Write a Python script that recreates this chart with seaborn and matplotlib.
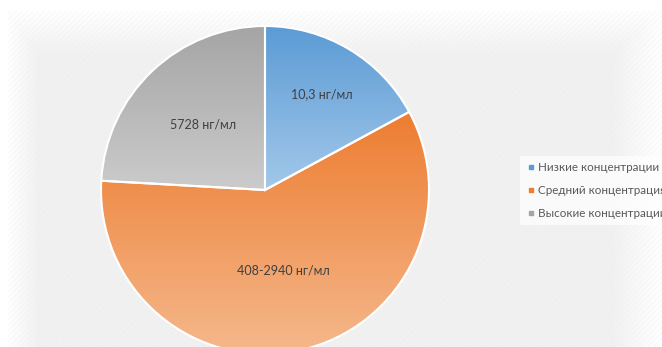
import matplotlib.pyplot as plt
import seaborn as sns
import numpy as np
from matplotlib.colors import LinearSegmentedColormap
from matplotlib.lines import Line2D
from matplotlib.patches import Rectangle

# Dados
categorias = ['Низкие концентрации', 'Средний концентрация', 'Высокие концентрации']
doli = [17.1, 58.8, 24.1]
podpisi = ['10,3 нг/мл', '408-2940 нг/мл', '5728 нг/мл']

# cores: topo -> base do gradiente
cores_topo = ['#5b9bd5', '#ed7d31', '#a5a5a5']
cores_base = ['#a3c8ea', '#f5b88c', '#cbcbcb']
dist_rotulo = [0.68, 0.50, 0.55]

sns.set_theme(style="white")
plt.rcParams['font.family'] = ['Lato', 'DejaVu Sans']

fig = plt.figure(figsize=(6.62, 3.47), dpi=100)
fig.patch.set_facecolor('white')

#%%
# Fundo cinza claro com leve vinheta branca nas bordas
bg = fig.add_axes([8 / 662, 0, 1 - 8 / 662, 1 - 11 / 347])
bg.set_axis_off()
h, w = 200, 400
yy, xx = np.mgrid[0:h, 0:w]
fade = np.minimum.reduce([yy / 25.0, xx / 18.0, (w - 1 - xx) / 30.0, np.full((h, w), 1.0)])
fade = np.clip(fade, 0, 1)
img = 1.0 - 0.055 * fade
bg.imshow(img, cmap='gray', vmin=0, vmax=1, aspect='auto', extent=(0, 1, 0, 1))
bg.add_patch(Rectangle((0, 0), 1, 1, facecolor='none', edgecolor='#ececec',
                       hatch='//////', linewidth=0, alpha=0.25))
bg.set_xlim(0, 1)
bg.set_ylim(0, 1)

#%%
# Gráfico de pizza
ax = fig.add_axes([101 / 662, -7 / 347, 328 / 662, 328 / 347])
fatias, _ = ax.pie(doli, startangle=90, counterclock=False, radius=1,
                   wedgeprops=dict(edgecolor='white', linewidth=1.5))

grad = np.linspace(0, 1, 256).reshape(-1, 1)
for fatia, c1, c2 in zip(fatias, cores_topo, cores_base):
    ext = fatia.get_path().get_extents()
    cmap = LinearSegmentedColormap.from_list('g', [c1, c2])
    im = ax.imshow(grad, cmap=cmap, aspect='auto', origin='upper',
                   extent=(ext.x0, ext.x1, ext.y0, ext.y1), zorder=1)
    im.set_clip_path(fatia)
    fatia.set_facecolor('none')
    fatia.set_zorder(2)

for fatia, txt, d in zip(fatias, podpisi, dist_rotulo):
    ang = np.deg2rad((fatia.theta1 + fatia.theta2) / 2)
    ax.text(d * np.cos(ang), d * np.sin(ang), txt, ha='center', va='center',
            fontsize=9, color='#404040', zorder=3)

ax.set_xlim(-1, 1)
ax.set_ylim(-1, 1)
ax.set_axis_off()

#%%
# Legenda
marcadores = [Line2D([0], [0], marker='s', linestyle='none', markersize=3.5,
                     markerfacecolor=c, markeredgecolor=c) for c in cores_topo]
leg = fig.legend(marcadores, categorias, loc='upper left',
                 bbox_to_anchor=(520 / 662, 1 - 156 / 347), frameon=True,
                 fontsize=8.4, labelspacing=1.05, handletextpad=0.2,
                 handlelength=0.8, borderpad=0.5, borderaxespad=0)
leg.get_frame().set_facecolor('white')
leg.get_frame().set_alpha(0.7)
leg.get_frame().set_edgecolor('none')
for t in leg.get_texts():
    t.set_color('#595959')

fig.savefig('out.png', dpi=100)
